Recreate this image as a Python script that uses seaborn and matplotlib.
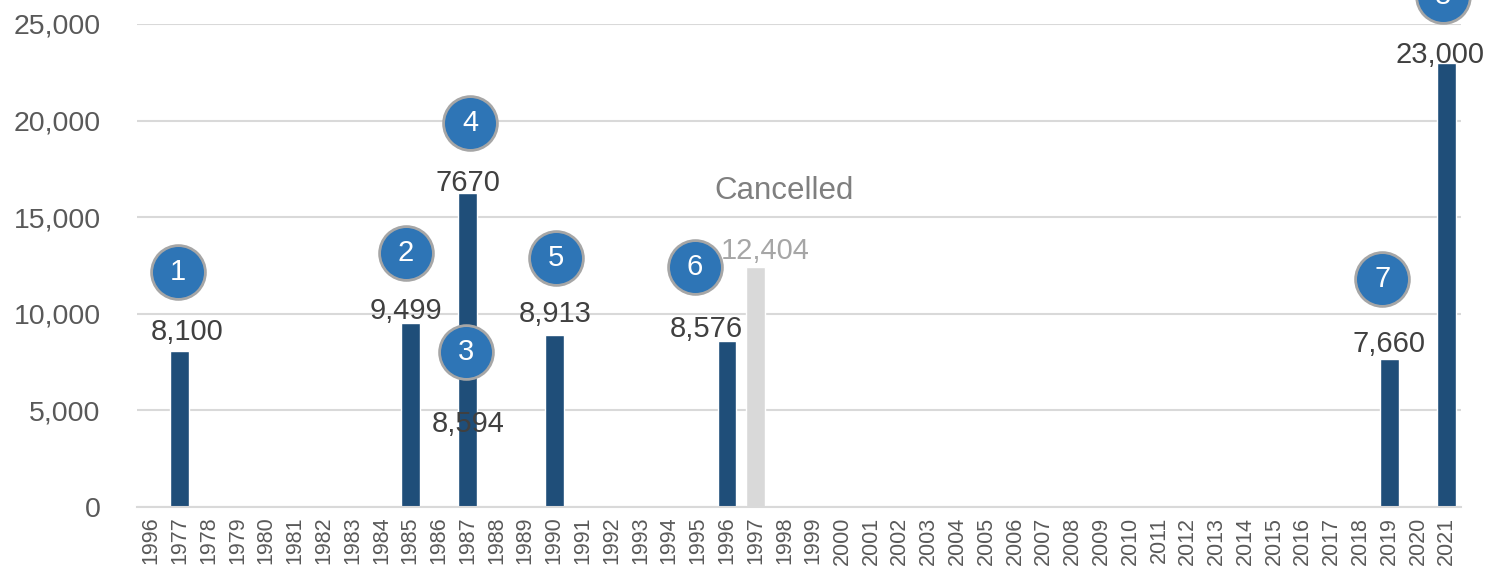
"""
Bar chart with numbered markers
"""

import numpy as np
import pandas as pd
import seaborn as sns
import matplotlib.pyplot as plt

# Tick labels along the x axis (first label reads 1996 in the source)
year_labels = ["1996"] + [str(y) for y in range(1977, 2022)]

# Bar values per category, in order of year_labels (0 = no bar)
values = [
    0, 8100, 0, 0, 0, 0, 0, 0, 0, 9499,      # 1996(label), 1977-1985
    0, 8594, 0, 0, 8913, 0, 0, 0, 0, 0,      # 1986-1995
    8576, 12404, 0, 0, 0, 0, 0, 0, 0, 0,     # 1996-2005
    0, 0, 0, 0, 0, 0, 0, 0, 0, 0,            # 2006-2015
    0, 0, 0, 7660, 0, 23000,                 # 2016-2021
]
# Second segment stacked on top of 1987
stacked_top = [0] * len(values)
stacked_top[11] = 7670
status = ["held"] * len(values)
status[21] = "cancelled"

# Value labels: category index, text, which level it labels
label_idx = [1, 9, 11, 11, 14, 20, 21, 43, 45]
label_texts = ["8,100", "9,499", "8,594", "7670", "8,913", "8,576", "12,404", "7,660", "23,000"]
label_kind = ["top", "top", "mid", "top", "top", "top", "top", "top", "top"]

# Numbered markers (x in category units, y in data units)
marker_nums = ["1", "2", "3", "4", "5", "6", "7", "8"]
marker_x = [0.94, 8.85, 10.94, 11.08, 14.06, 18.89, 42.76, 44.86]
marker_y = [12140, 13170, 8040, 19850, 12910, 12400, 11800, 26450]

dark = "#1F4E79"
light = "#D9D9D9"
circle = "#2E75B6"

totals = [a + b for a, b in zip(values, stacked_top)]

df = pd.DataFrame({"pos": np.arange(len(year_labels)), "value": totals, "status": status})

sns.set_style("white")
plt.rcParams["font.family"] = ["Liberation Sans", "DejaVu Sans"]

fig = plt.figure(figsize=(14.85, 5.74), dpi=100)
ax = fig.add_axes([0.092, 0.1167, 0.892, 0.8415])

sns.barplot(
    data=df, x="pos", y="value", hue="status",
    palette={"held": dark, "cancelled": light}, saturation=1,
    dodge=False, width=0.65, legend=False, ax=ax, zorder=2,
)

ax.set_ylim(0, 25000)
ax.set_xlim(-0.5, len(year_labels) - 0.5)
ax.set_yticks(range(0, 25001, 5000))
ax.set_yticklabels([f"{v:,}" for v in range(0, 25001, 5000)], fontsize=20.5, color="#595959")
ax.set_xticks(range(len(year_labels)))
ax.set_xticklabels(year_labels, rotation=90, fontsize=15.5, color="#595959")
ax.tick_params(axis="both", length=0)
ax.tick_params(axis="x", pad=7)
ax.tick_params(axis="y", pad=26)
ax.set_xlabel("")
ax.set_ylabel("")
ax.yaxis.grid(True, color="#D9D9D9", linewidth=1.5, zorder=0)
ax.set_axisbelow(True)
for side in ["left", "right", "top"]:
    ax.spines[side].set_visible(False)
ax.spines["bottom"].set_color("#D9D9D9")
ax.spines["bottom"].set_linewidth(1.5)

# Value labels, nudged (pixels) the way the source places them
label_dx = [7, -4, 0, 0, 1, -21, 9, 0, -7]
label_dy = [19, 12, 0, 10, 21, 12, 16, 15, 8]
for i, txt, kind, dx, dy in zip(label_idx, label_texts, label_kind, label_dx, label_dy):
    y = values[i] / 2 if kind == "mid" else totals[i]
    color = "#A6A6A6" if status[i] == "cancelled" else "#404040"
    ax.annotate(txt, (i, y), xytext=(dx, dy), textcoords="offset pixels",
                ha="center", va="center", fontsize=21, color=color, zorder=4,
                annotation_clip=False)

ax.text(22, 16350, "Cancelled", ha="center", va="center",
        fontsize=22.5, color="#7F7F7F")

# Numbered circles
ax.scatter(marker_x, marker_y, s=1500, color=circle, edgecolor="#A6A6A6",
           linewidth=2, zorder=5, clip_on=False)
for x, y, n in zip(marker_x, marker_y, marker_nums):
    ax.text(x, y, n, ha="center", va="center", fontsize=21, color="white",
            zorder=6, clip_on=False)

plt.savefig("out.png", dpi=100)
